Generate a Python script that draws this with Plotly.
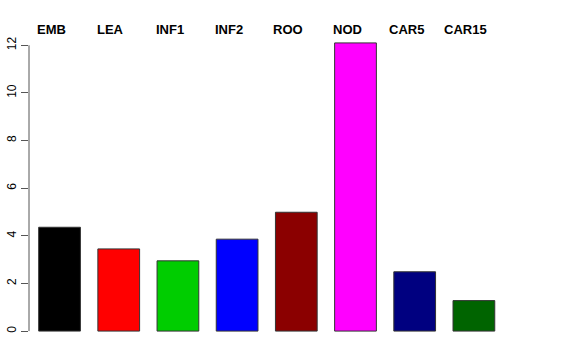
import plotly.graph_objects as go

categories = ["EMB", "LEA", "INF1", "INF2", "ROO", "NOD", "CAR5", "CAR15"]
values = [4.36, 3.45, 2.95, 3.86, 4.99, 12.1, 2.49, 1.28]
colors = ["#000000", "#FF0000", "#00CD00", "#0000FF", "#8B0000", "#FF00FF", "#000080", "#006400"]
tick_vals = [0, 2, 4, 6, 8, 10, 12]

xpos = list(range(len(categories)))

fig = go.Figure()
fig.add_trace(go.Bar(
    x=xpos, y=values, width=0.705,
    marker=dict(color=colors, line=dict(color="#333333", width=1)),
    hoverinfo="skip", showlegend=False,
))

for i, c in enumerate(categories):
    fig.add_annotation(x=i, y=1, xref="x", yref="paper", text="<b>%s</b>" % c,
                       showarrow=False, xanchor="center", yanchor="bottom",
                       xshift=-8, yshift=-8,
                       font=dict(family="Liberation Sans, Arial, sans-serif", size=13, color="black"))

# axis line from 0 to 12 like R's axis()
fig.add_shape(type="line", xref="paper", yref="y", x0=0, x1=0, y0=tick_vals[0], y1=tick_vals[-1],
              line=dict(color="#555555", width=1))

fig.update_layout(
    width=576, height=360,
    margin=dict(l=29, r=64, t=31, b=17, autoexpand=False),
    paper_bgcolor="white", plot_bgcolor="white",
    font=dict(family="Liberation Sans, Arial, sans-serif", size=12, color="black"),
    xaxis=dict(range=[-0.516, 7.644], showticklabels=False, showgrid=False, zeroline=False,
               showline=False, ticks="", automargin=False),
    yaxis=dict(range=[-0.5, 12.6], tickvals=tick_vals, ticks="outside", ticklen=7,
               tickcolor="#555555", tickangle=-90, showgrid=False, zeroline=False,
               showline=False, tickfont=dict(size=12), automargin=False),
    bargap=0,
)

fig.write_html("out.html", config={"displayModeBar": False, "staticPlot": True},
               post_script="document.body.style.margin='0';document.body.style.overflow='hidden';")
